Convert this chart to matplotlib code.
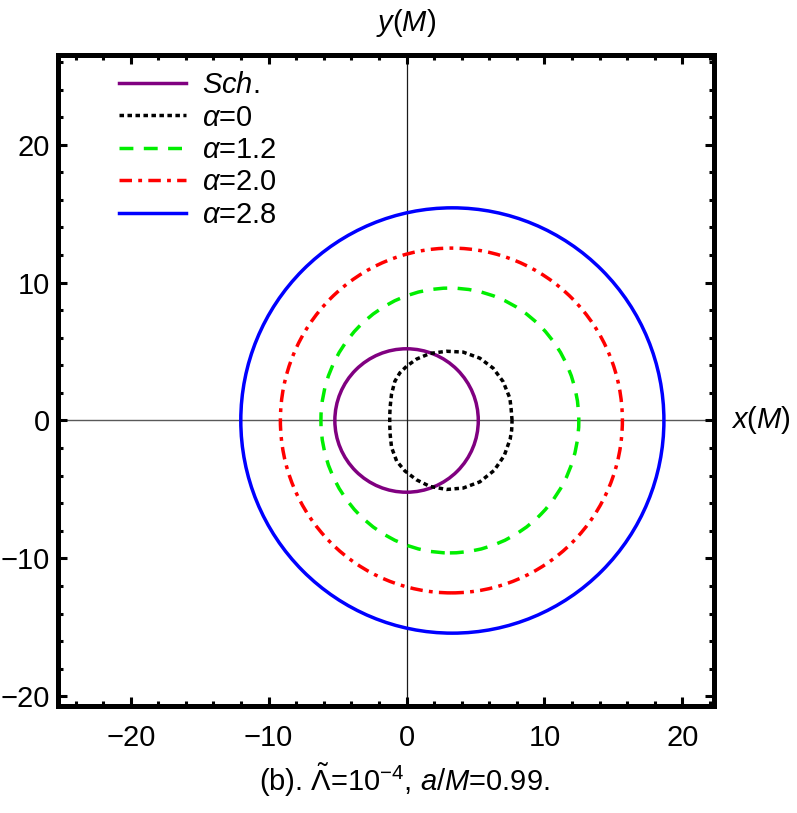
"""Shadow contours for several alpha values, Lambda=1e-4, a/M=0.99."""

import matplotlib.pyplot as plt
from matplotlib.lines import Line2D
from matplotlib.patches import Ellipse
from matplotlib.ticker import MultipleLocator

plt.rcParams["font.family"] = ["Liberation Sans", "DejaVu Sans"]
plt.rcParams["mathtext.fontset"] = "custom"
plt.rcParams["mathtext.rm"] = "Liberation Sans"
plt.rcParams["mathtext.it"] = "Liberation Sans:italic"

# Schwarzschild shadow (circle)
SCH_RADIUS = 5.2

# alpha = 0 contour (x, y)
KERR_X = [7.65, 7.58, 7.49, 7.0, 6.28, 5.31, 4.10, 2.90, 1.69, 0.72, 0.0, -0.49, -0.85,
          -1.09, -1.19, -1.22, -1.22, -1.19, -1.09, -0.72, -0.12, 0.72, 1.69, 2.90, 4.10,
          5.31, 6.35, 7.08, 7.51, 7.62, 7.65]
KERR_Y = [0.0, 0.85, 1.62, 2.82, 3.79, 4.52, 4.96, 5.02, 4.86, 4.45, 3.93, 3.45, 2.84,
          1.92, 1.0, 0.35, -0.35, -1.0, -1.95, -2.94, -3.66, -4.30, -4.78, -5.0, -4.90,
          -4.45, -3.62, -2.55, -1.35, -0.7, 0.0]

# alpha > 0 contours: nearly circular, centre and half-widths
ALPHAS = ["1.2", "2.0", "2.8"]
CENTER_X = [3.14, 3.25, 3.32]
HALF_W = [9.35, 12.4, 15.34]
HALF_H = [9.6, 12.5, 15.42]
COLORS = ["#00ee00", "#ff0000", "#0000ff"]
DASHES = [(4.0, 3.0), (3.6, 1.8, 1.1, 1.8), None]

LW = 2.5
FS = 21

fig = plt.figure(figsize=(7.97, 8.13), dpi=100)
ax = fig.add_axes([0.0732, 0.1307, 0.8228, 0.8029])

ax.axhline(0, color="0.35", lw=1.0, zorder=1)
ax.axvline(0, color="0.1", lw=0.9, zorder=1)

ax.add_patch(Ellipse((0, 0), 2 * SCH_RADIUS, 2 * SCH_RADIUS, fill=False,
                     edgecolor="#800080", lw=LW, zorder=3))
ax.plot(KERR_X, KERR_Y, color="black", lw=LW, dashes=(1.3, 1.0), zorder=3)

handles = [
    Line2D([], [], color="#800080", lw=LW),
    Line2D([], [], color="black", lw=LW, dashes=(1.3, 1.0)),
]
labels = ["$\\it{Sch.}$", "$\\alpha$=0"]

for alpha, cx, hw, hh, col, dsh in zip(ALPHAS, CENTER_X, HALF_W, HALF_H, COLORS, DASHES):
    ell = Ellipse((cx, 0), 2 * hw, 2 * hh, fill=False, edgecolor=col, lw=LW, zorder=3)
    if dsh is not None:
        ell.set_linestyle((0, dsh))
    ax.add_patch(ell)
    if dsh is None:
        handles.append(Line2D([], [], color=col, lw=LW))
    else:
        handles.append(Line2D([], [], color=col, lw=LW, dashes=dsh))
    labels.append(f"$\\alpha$={alpha}")

ax.set_xlim(-25.25, 22.3)
ax.set_ylim(-20.68, 26.5)
ax.set_aspect("equal")

for side in ax.spines.values():
    side.set_linewidth(3.6)

ax.xaxis.set_major_locator(MultipleLocator(10))
ax.xaxis.set_minor_locator(MultipleLocator(2))
ax.yaxis.set_major_locator(MultipleLocator(10))
ax.yaxis.set_minor_locator(MultipleLocator(2))
ax.tick_params(which="both", direction="in", top=True, right=True, width=2.2)
ax.tick_params(which="major", length=6.5, labelsize=FS)
ax.tick_params(axis="x", which="major", pad=13)
ax.tick_params(axis="y", which="major", pad=6)
ax.tick_params(which="minor", length=3.5)

ax.legend(handles, labels, loc="upper left", bbox_to_anchor=(0.066, 1.002),
          frameon=False, fontsize=FS, handlelength=2.3, handletextpad=0.55,
          labelspacing=0.15, borderaxespad=0.2)

ax.text(0, 1.025, "$\\it{y(M)}$", transform=ax.get_xaxis_transform(),
        ha="center", va="bottom", fontsize=FS)
ax.text(1.025, 0, "$\\it{x(M)}$", transform=ax.get_yaxis_transform(),
        ha="left", va="center", fontsize=FS)

fig.text(0.508, 0.04, "(b). $\\tilde{\\Lambda}$=10$^{-4}$, $a$/$M$=0.99.",
         ha="center", va="center", fontsize=21)

fig.savefig("out.png", dpi=100)
